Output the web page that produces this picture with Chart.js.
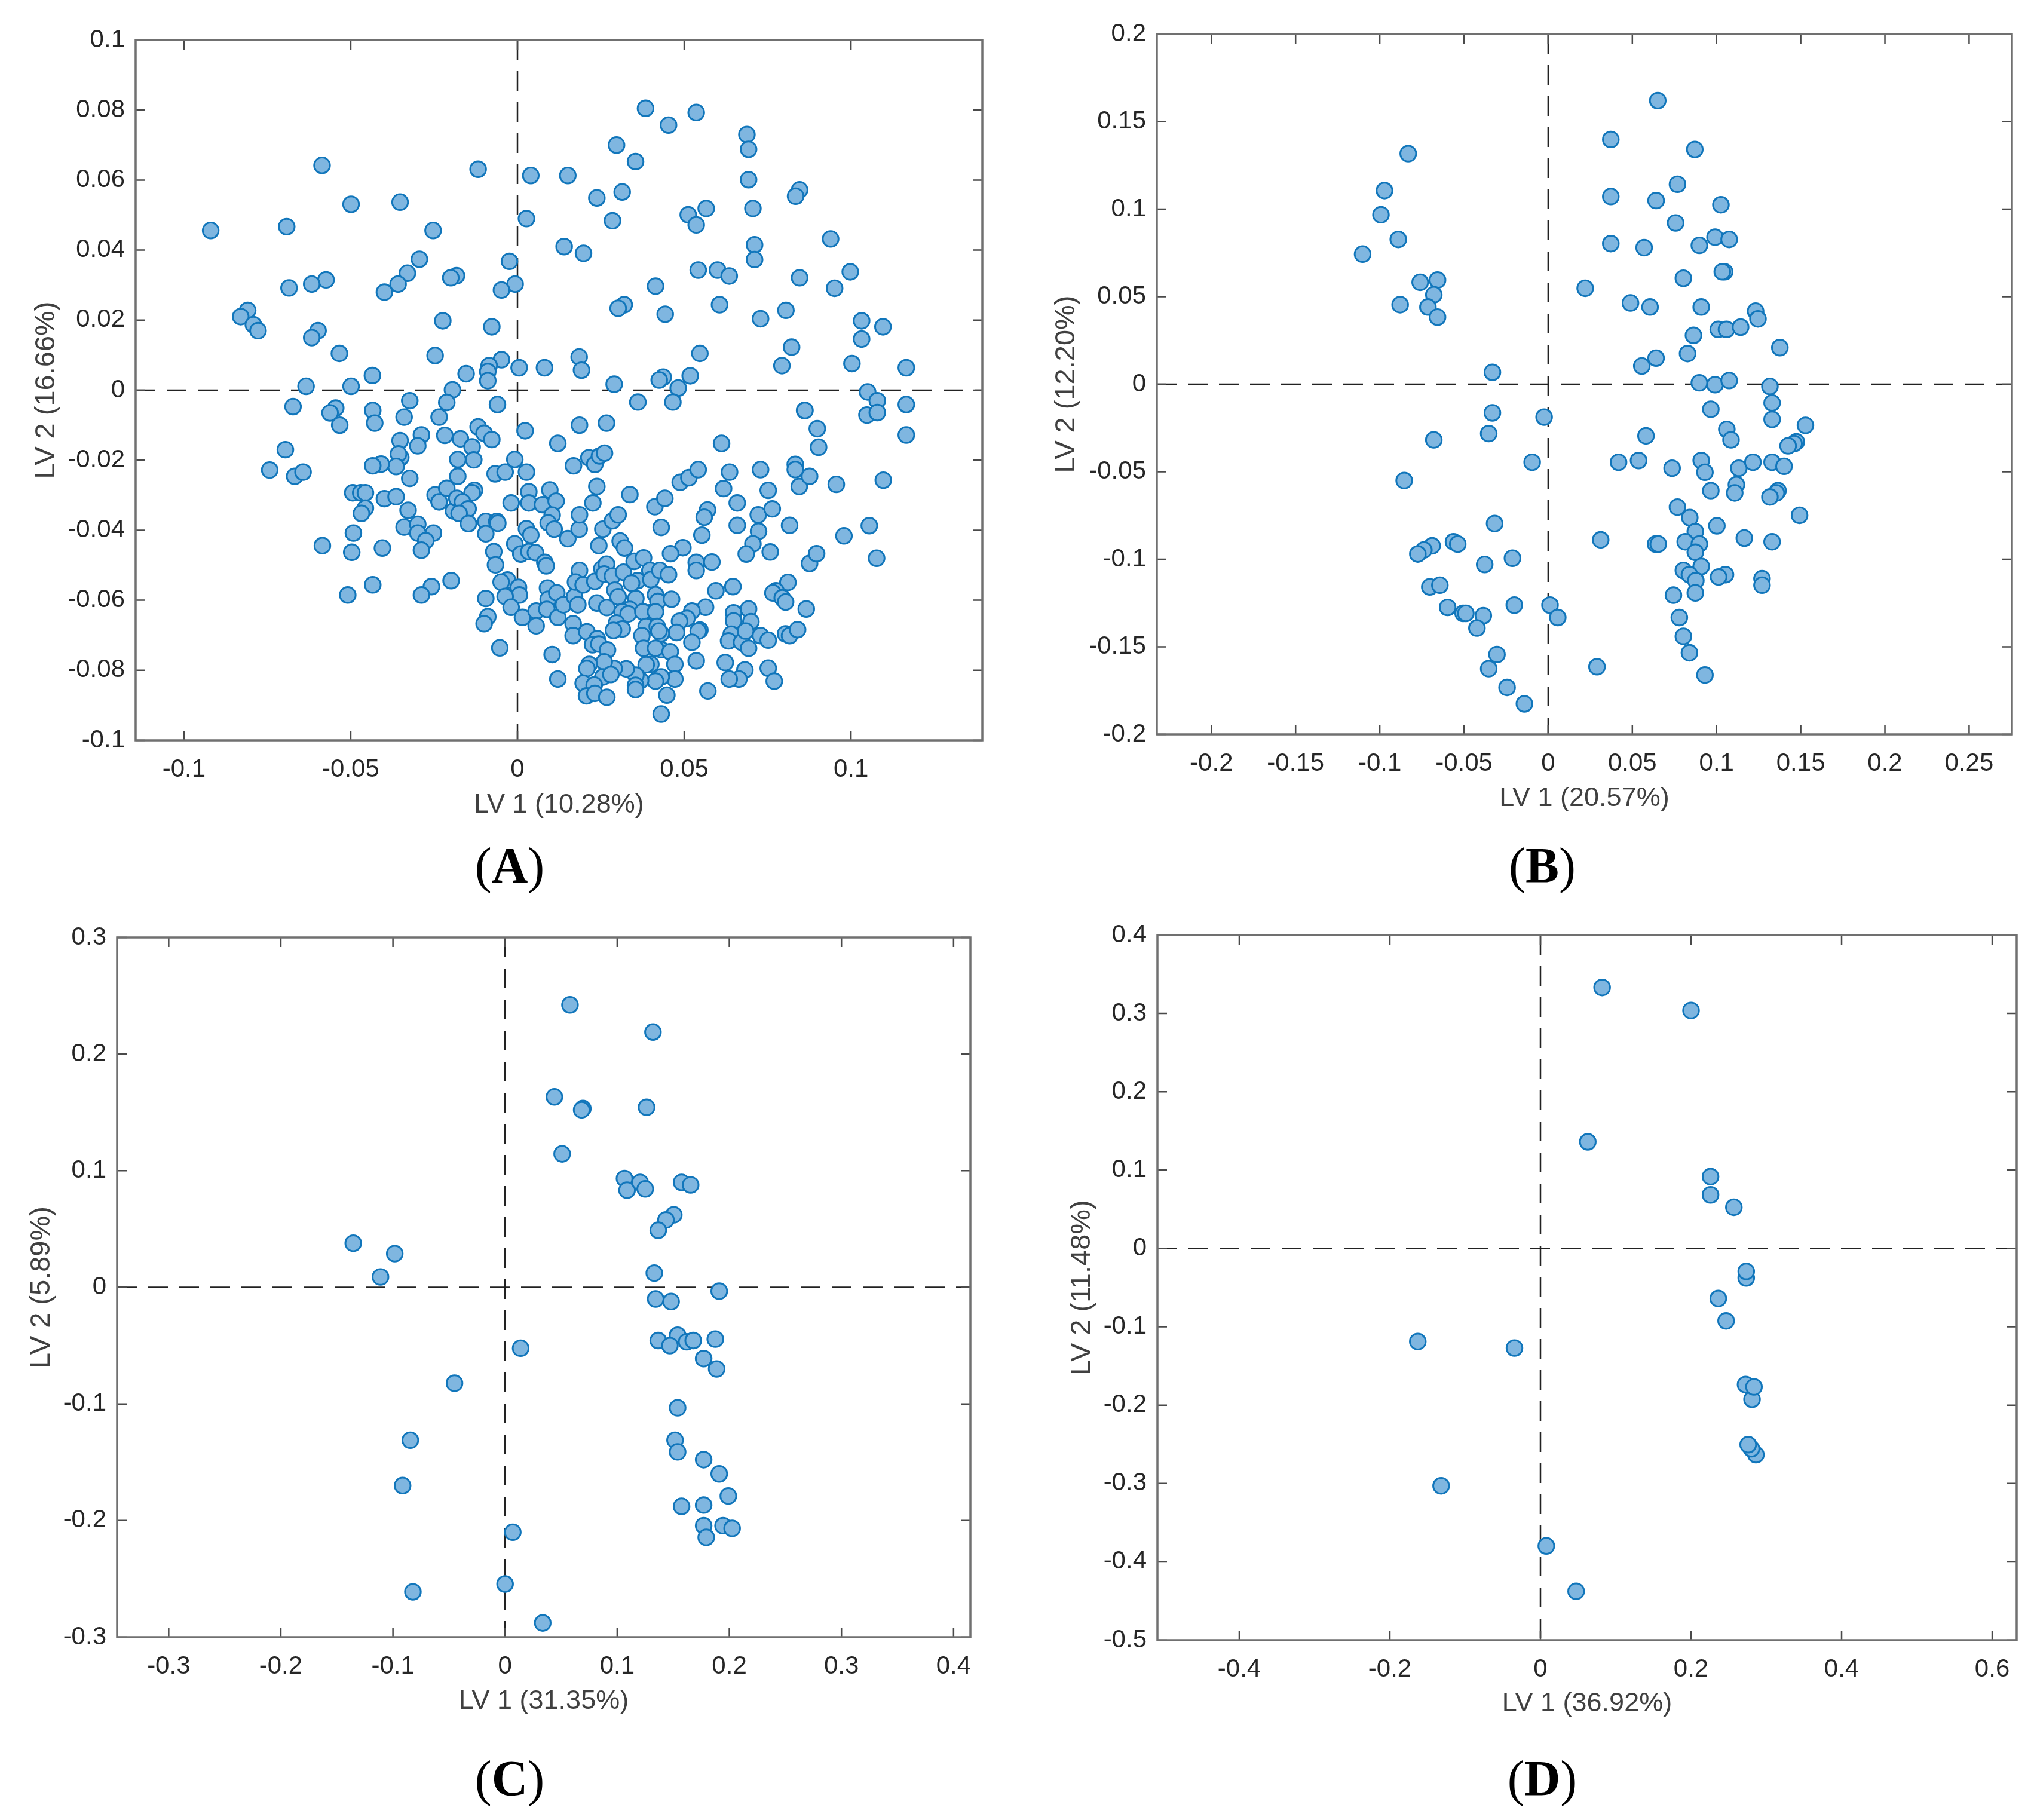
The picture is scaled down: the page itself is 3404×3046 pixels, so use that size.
<!DOCTYPE html>
<html lang="en">
<head>
<meta charset="UTF-8" />
<title>LV score plots</title>
<script src="https://cdn.jsdelivr.net/npm/chart.js"></script>
<style>
  body { margin: 0; background: #fff; width: 3404px; height: 3046px; position: relative; overflow: hidden; }
  canvas { position: absolute; }
  .tag { position: absolute; transform: translate(-50%, -50%); font: 84px "Liberation Serif", serif; color: #000; }
  .tag b { font-weight: bold; }
</style>
</head>
<body>
<script>
// scores, [LV 1, LV 2]
const scoresA = [
[-.092,.0456],[-.0692,.0467],[-.0586,.0642],[-.0499,.0531],[-.0352,.0537],[-.0253,.0456],[-.0118,.0631],[.004,.0613],[.0151,.0613],[.0027,.049],
[.014,.041],[.0198,.0391],[-.0024,.0368],[-.0183,.0327],[-.02,.0321],[-.0294,.0374],[-.033,.0334],[-.0358,.0303],[-.0399,.028],[-.0574,.0315],
[-.0617,.0303],[-.0685,.0292],[-.0007,.0303],[-.0048,.0286],[-.0809,.0228],[-.083,.021],[-.0792,.0187],[-.0778,.017],[-.0598,.017],[-.0617,.015],
[-.0534,.0105],[-.0224,.0198],[-.0077,.0181],[-.0247,.0099],[-.0435,.0042],[-.0154,.0047],[-.0048,.0087],[-.0085,.007],[-.0089,.0053],[-.0089,.0027],
[.0005,.0064],[.0081,.0064],[.0185,.0095],[.0192,.0057],[-.0634,.0011],[-.0499,.0011],[-.0195,.0001],
[-.0673,-.0047],[-.0545,-.0051],[-.0562,-.0065],[-.0533,-.01],[-.0434,-.0058],[-.0428,-.0094],[-.0323,-.003],[-.034,-.0077],[-.0212,-.0035],[-.0235,-.0077],
[-.0288,-.0128],[-.0299,-.0159],[-.0352,-.0144],[-.035,-.0192],[-.0357,-.0182],[-.0364,-.0218],[-.0409,-.0211],[-.0434,-.0216],[-.0323,-.0252],[-.0218,-.0129],
[-.0696,-.017],[-.0743,-.0228],[-.0668,-.0246],[-.0643,-.0234],[-.0494,-.0293],[-.047,-.0293],[-.0456,-.0293],[-.0456,-.0337],[-.0468,-.0352],[-.0399,-.031],
[-.0364,-.0304],[-.0328,-.0343],[-.034,-.0391],[-.0299,-.0383],[-.0299,-.0408],[-.0252,-.0408],[-.0275,-.043],[-.0288,-.0457],[-.0492,-.0408],[-.0585,-.0444],
[-.0497,-.0463],[-.0405,-.0451],[-.0434,-.0556],[-.0509,-.0585],[-.0258,-.0561],[-.0288,-.0585],[-.0199,-.0544],[-.0247,-.0299],[-.0235,-.0319],[-.0212,-.028],[-.0192,-.0345],
[-.006,-.0041],[-.0118,-.0105],[-.01,-.0123],[-.0077,-.0141],[-.0171,-.0139],[-.0136,-.0162],[-.0131,-.0199],[-.0179,-.0198],[-.0179,-.0246],[.0023,-.0116],
[-.0008,-.0198],[-.0067,-.0239],[-.0037,-.0234],[.0027,-.0234],[.0121,-.0152],[.0186,-.01],[.0267,-.0094],[.0168,-.0216],[.0214,-.0193],[.0232,-.0212],
[.0246,-.0188],[.0261,-.018],[.0612,-.0152],[.0238,-.0275],[.0226,-.0322],[.0337,-.0298],[-.0129,-.0286],[-.0136,-.0293],[-.0182,-.0309],[-.0165,-.0319],
[-.0148,-.0339],[-.0175,-.0352],[-.0147,-.0381],[-.0019,-.0322],[.0034,-.029],[.0034,-.0322],[.0075,-.0327],[.0097,-.0285],[.0116,-.0317],[.0104,-.0357],
[.0092,-.0379],[.011,-.0397],[.0151,-.0424],[.0185,-.0397],[.0186,-.0356],[.0256,-.0397],[.0285,-.0373],[.0302,-.0356],[.0244,-.0444],[.0308,-.0431],
[.0321,-.0451],[.0412,-.0333],[.0442,-.0309],[.0431,-.0392],[.0488,-.0263],[.0514,-.025],[.0542,-.0227],[.0618,-.0281],[.0636,-.0234],[.0729,-.0227],
[.0752,-.0286],[.0659,-.0322],[.057,-.0342],[.056,-.0363],[.0553,-.0414],[.0659,-.0386],[.0722,-.0356],[.0764,-.0339],[.0816,-.0386],[.0723,-.0403],
[.0706,-.0439],[.0686,-.0468],[.0758,-.0462],[.0833,-.0212],[.0833,-.0227],[.0845,-.0275],[.0876,-.0246],[.0861,-.0058],[.0876,-.0495],[.0866,-.0625],
[.0496,-.045],[.0459,-.0467],[.0536,-.0492],[.0536,-.0515],[.0583,-.0491],[.0595,-.0573],[.0646,-.0561],[.0811,-.0549],[.0775,-.0573],[.0766,-.0579],
[.0794,-.0593],[.0804,-.0605],[.0564,-.062],[.0523,-.0631],[.0508,-.0652],[.0486,-.066],[.0477,-.0692],[.0547,-.0685],[.0542,-.0688],[.0523,-.072],
[.0536,-.0773],[.0571,-.0859],[.0623,-.0778],[.0682,-.0799],[.0664,-.0825],[.0635,-.0825],[.0752,-.0794],[.077,-.0831],[.0648,-.0636],[.0648,-.0659],
[.0693,-.0625],[.07,-.0661],[.0641,-.0697],[.0633,-.0716],[.0672,-.072],[.0693,-.0737],[.0684,-.0688],[.0729,-.0701],[.0752,-.0714],[.0804,-.0696],[.0816,-.0701],[.084,-.0684],
[-.0095,-.0595],[-.003,-.0542],[-.0049,-.0548],[.0003,-.0563],[.0006,-.0585],[-.0037,-.0589],[-.0019,-.062],[-.0089,-.0647],[-.01,-.0667],[.0015,-.0649],
[.0056,-.0631],[.0056,-.0673],[-.0053,-.0736],[.009,-.0565],[.0092,-.0597],[.0118,-.0579],[.0088,-.0626],[.0121,-.0649],[.0138,-.0613],[.0171,-.059],
[.0181,-.0613],[.0167,-.0667],[.0167,-.0701],[.0208,-.069],[.0104,-.0755],[.0121,-.0825],[.0239,-.071],[.0225,-.0727],[.0244,-.0725],[.027,-.0742],
[.0186,-.0515],[.0174,-.0548],[.0197,-.0556],[.0232,-.0546],[.0253,-.051],[.0267,-.0497],[.026,-.0525],[.0285,-.0531],[.0318,-.052],[.035,-.0489],
[.0378,-.0479],[.0397,-.0515],[.036,-.0544],[.04,-.0541],[.0342,-.0551],[.0427,-.0515],[.0453,-.0527],[.0292,-.0571],[.0302,-.059],[.0355,-.0595],
[.0414,-.0584],[.0421,-.0603],[.0462,-.0597],[.0238,-.0608],[.0268,-.0621],[.0337,-.0626],[.0314,-.0633],[.0332,-.0639],[.0395,-.0636],[.0376,-.0633],
[.0414,-.0633],[.0297,-.0665],[.0314,-.0682],[.0288,-.0686],[.0386,-.0675],[.0419,-.0675],[.0431,-.0695],[.0424,-.0688],[.0373,-.0701],[.0431,-.0741],
[.0378,-.0737],[.0414,-.0737],[.0458,-.0747],[.04,-.0783],[.0386,-.0784],[.0472,-.0783],[.0472,-.0825],[.0431,-.0819],[.0414,-.0831],[.0369,-.0829],
[.0355,-.0814],[.0354,-.0843],[.0354,-.0855],[.0448,-.0871],[.0431,-.0925],[.0326,-.0796],[.029,-.0795],[.026,-.0776],[.0215,-.0783],[.0208,-.0795],
[.0256,-.0819],[.028,-.0812],[.0197,-.0837],[.023,-.0842],[.0207,-.0873],[.0232,-.0866],[.0268,-.0877],[-.0071,-.0461],[-.0066,-.0499],[-.0095,-.0375],
[-.0062,-.0375],[-.0059,-.038],[-.0095,-.041],[.0027,-.0396],[.004,-.0414],[-.0008,-.0439],[.001,-.0468],[.0034,-.0461],[.0054,-.0464],[.0082,-.0492],[.0086,-.0502],
[.0384,.0805],[.0453,.0757],[.0536,.0793],[.0688,.073],[.0693,.0688],[.0297,.07],[.0354,.0653],[.0693,.0601],[.0846,.0572],[.0834,.0554],
[.0238,.0549],[.0314,.0566],[.0706,.0519],[.0566,.0519],[.0512,.0501],[.0536,.0472],[.0285,.0484],[.0711,.0415],[.0711,.0373],[.0939,.0432],
[.0542,.0343],[.06,.0343],[.0635,.0326],[.0846,.0321],[.0998,.0338],[.0951,.0291],[.0414,.0297],[.0606,.0244],[.032,.0244],[.0302,.0234],
[.0443,.0217],[.0729,.0204],[.0805,.0228],[.1032,.0198],[.1096,.0181],[.1032,.0146],[.0822,.0123],[.0547,.0105],[.0793,.007],[.1003,.0076],
[.1166,.0064],[.0437,.0037],[.0425,.0029],[.0518,.0041],[.0482,.0006],[.029,.0017],[.105,-.0005],[.1079,-.003],[.0361,-.0034],[.0466,-.0034],
[.0862,-.0058],[.1166,-.0041],[.1048,-.0071],[.1079,-.0064],[.0899,-.011],[.0903,-.0163],[.1166,-.0128],[.0956,-.0269],[.1097,-.0257],
[.1055,-.0387],[.0979,-.0416],[.1077,-.048],[.0897,-.0467]
];
const scoresB = [
[.0651,.162],[.0372,.1398],[.0871,.1341],[-.0831,.1317],[-.0972,.1106],[.0768,.1142],[.0372,.1072],[.0641,.1049],[.1026,.1025],[-.0993,.0968],
[.0757,.0921],[-.089,.0827],[-.1102,.0743],[.0372,.0803],[.057,.078],[.0898,.0793],[.0991,.084],[.1075,.0827],[.0803,.0605],[.1048,.0642],
[.1034,.0642],[.022,.0548],[.0489,.0464],[.0605,.0441],[.0909,.0441],[-.076,.0582],[-.0657,.0595],[-.0679,.0511],[-.0879,.0454],[-.0714,.0441],
[-.0657,.0383],[.1232,.0417],[.1246,.0373],[.101,.0313],[.1059,.0313],[.1143,.0326],[.0863,.0279],[.1376,.0209],[.0828,.0175],[.0641,.0149],
[.0556,.0104],[-.0331,.0068],[.0898,.0008],[.0991,-.0003],[.1075,.0021],[.1317,-.0013],[.133,-.0107],[.0966,-.0143],[.133,-.0201],[-.0331,-.0164],
[-.0024,-.0188],[-.0353,-.0282],[.1061,-.0258],[.1086,-.0318],[.1528,-.0235],[.0581,-.0295],[-.0679,-.0318],[.1474,-.0329],[.146,-.0339],[.1425,-.0352],
[-.0095,-.0446],[.0418,-.0446],[.0537,-.0436],[.0736,-.048],[.0909,-.0436],[.0931,-.0503],[.1132,-.048],[.1216,-.0446],[.133,-.0446],[.1401,-.0469],
[-.0855,-.055],[.1118,-.0574],[.1108,-.0621],[.0966,-.0608],[.1365,-.0608],[.1355,-.0621],[.1317,-.0644],[.0768,-.0702],[.0841,-.0762],[.1493,-.0749],
[-.0318,-.0796],[.1002,-.0809],[.0874,-.0842],[.0312,-.0889],[.0638,-.0913],[.0654,-.0913],[.0814,-.09],[.0898,-.0913],[.1165,-.0879],[.133,-.09],
[-.0562,-.09],[-.0537,-.0913],[-.0689,-.0923],[-.0738,-.0947],[-.0774,-.097],[-.0212,-.0994],[-.0377,-.103],[.0874,-.096],[.0909,-.1041],[.0803,-.1064],
[.0839,-.1088],[.0877,-.1122],[.1053,-.1088],[.1012,-.1101],[.127,-.1111],[.127,-.1148],[.0874,-.1192],[.0744,-.1205],[-.0703,-.1158],[-.0643,-.1148],
[-.0597,-.1275],[-.0505,-.1309],[-.0489,-.1309],[-.0385,-.1322],[-.0201,-.1262],[.0011,-.1262],[.0057,-.1333],[-.0423,-.1393],[.0779,-.1333],[.0803,-.144],
[.0839,-.1534],[-.0304,-.1544],[-.0353,-.1625],[.029,-.1614],[.0931,-.1661],[-.0244,-.1732],[-.0141,-.1826]
];
const scoresC = [
[.0579,.2422],[.1319,.2189],[.044,.1633],[.0694,.1533],[.0683,.1522],[.1262,.1544],[.0509,.1144],[.1065,.0933],[.1088,.0833],[.1204,.09],
[.125,.0844],[.1574,.09],[.1655,.0878],[.1505,.0622],[.1435,.0578],[.1366,.0489],[.1331,.0122],[-.1354,.0378],[-.0984,.0289],[-.1111,.0089],
[.1343,-.01],[.1481,-.0122],[.191,-.0033],[.0139,-.0522],[.1366,-.0456],[.1539,-.0411],[.147,-.05],[.162,-.0467],[.1678,-.0456],[.1875,-.0444],
[.1771,-.0611],[.1887,-.07],[-.0451,-.0822],[.1539,-.1033],[-.0845,-.1311],[.1516,-.1311],[.1539,-.1411],[.1771,-.1478],[.191,-.16],[-.0914,-.17],
[.1991,-.1789],[.1574,-.1878],[.1771,-.1867],[.1771,-.2044],[.1794,-.2144],[.1944,-.2044],[.2025,-.2067],[.0069,-.21],[-.0822,-.2611],[0,-.2544],[.0336,-.2878]
];
const scoresD = [
[.0819,.3331],[.2,.3038],[.0629,.1361],[.2259,.0917],[.2259,.0684],[.2569,.0526],[.2733,-.0376],[.2733,-.0293],[.2362,-.0639],[.2466,-.0925],
[-.1629,-.1188],[-.0345,-.1271],[.2724,-.1737],[.281,-.1925],[.2836,-.1767],[.2862,-.2632],[.2802,-.2556],[.2759,-.2504],[-.1319,-.303],[.0078,-.3797],[.0474,-.4376]
];

const xTicksA = [-0.1, -0.05, 0, 0.05, 0.1];
const yTicksA = [-0.1, -0.08, -0.06, -0.04, -0.02, 0, 0.02, 0.04, 0.06, 0.08, 0.1];
const xTicksB = [-0.2, -0.15, -0.1, -0.05, 0, 0.05, 0.1, 0.15, 0.2, 0.25];
const yTicksB = [-0.2, -0.15, -0.1, -0.05, 0, 0.05, 0.1, 0.15, 0.2];
const xTicksC = [-0.3, -0.2, -0.1, 0, 0.1, 0.2, 0.3, 0.4];
const yTicksC = [-0.3, -0.2, -0.1, 0, 0.1, 0.2, 0.3];
const xTicksD = [-0.4, -0.2, 0, 0.2, 0.4, 0.6];
const yTicksD = [-0.5, -0.4, -0.3, -0.2, -0.1, 0, 0.1, 0.2, 0.3, 0.4];

const xLimitsA = [-0.1145, 0.1394], yLimitsA = [-0.1, 0.1];
const xLimitsB = [-0.2324, 0.2754], yLimitsB = [-0.2, 0.2];
const xLimitsC = [-0.346, 0.415], yLimitsC = [-0.3, 0.3];
const xLimitsD = [-0.5087, 0.6325], yLimitsD = [-0.5, 0.4];

// box = plot area in page pixels, page = canvas rectangle
const panels = [
  { tag: 'A', scores: scoresA, xTicks: xTicksA, yTicks: yTicksA, xLim: xLimitsA, yLim: yLimitsA,
    xTitle: 'LV 1 (10.28%)', yTitle: 'LV 2 (16.66%)', page: [0, 0, 1700, 1500], box: [227, 67, 1644, 1239], xTitleY: 1348, yTitleX: 78, tagAt: [853, 1448] },
  { tag: 'B', scores: scoresB, xTicks: xTicksB, yTicks: yTicksB, xLim: xLimitsB, yLim: yLimitsB,
    xTitle: 'LV 1 (20.57%)', yTitle: 'LV 2 (12.20%)', page: [1700, 0, 1704, 1500], box: [1936, 57, 3367, 1229], xTitleY: 1337, yTitleX: 1785, tagAt: [2581, 1448] },
  { tag: 'C', scores: scoresC, xTicks: xTicksC, yTicks: yTicksC, xLim: xLimitsC, yLim: yLimitsC,
    xTitle: 'LV 1 (31.35%)', yTitle: 'LV 2 (5.89%)', page: [0, 1500, 1700, 1546], box: [196, 1569, 1624, 2740], xTitleY: 2848, yTitleX: 70, tagAt: [853, 2976] },
  { tag: 'D', scores: scoresD, xTicks: xTicksD, yTicks: yTicksD, xLim: xLimitsD, yLim: yLimitsD,
    xTitle: 'LV 1 (36.92%)', yTitle: 'LV 2 (11.48%)', page: [1700, 1500, 1704, 1546], box: [1937, 1565, 3375, 2745], xTitleY: 2852, yTitleX: 1811, tagAt: [2581, 2976] }
];

const TICK_FONT = { family: '"Liberation Sans", Arial, sans-serif', size: 42 };
const X_TITLE_FONT = { family: '"Liberation Sans", Arial, sans-serif', size: 45, lineHeight: 1.2 };
const Y_TITLE_FONT = { family: '"Liberation Sans", Arial, sans-serif', size: 47, lineHeight: 1.2 };

// matlab style box with inward ticks on all four sides
const boxPlugin = {
  id: 'matlabBox',
  afterDraw(chart) {
    const { ctx, chartArea: a, scales } = chart;
    const len = 16;
    ctx.save();
    ctx.strokeStyle = '#4a4a4a';
    ctx.lineWidth = 2.5;
    ctx.beginPath();
    scales.x.ticks.forEach(t => {
      const px = scales.x.getPixelForValue(t.value);
      ctx.moveTo(px, a.bottom); ctx.lineTo(px, a.bottom - len);
      ctx.moveTo(px, a.top); ctx.lineTo(px, a.top + len);
    });
    scales.y.ticks.forEach(t => {
      const py = scales.y.getPixelForValue(t.value);
      ctx.moveTo(a.left, py); ctx.lineTo(a.left + len, py);
      ctx.moveTo(a.right, py); ctx.lineTo(a.right - len, py);
    });
    ctx.stroke();
    ctx.strokeStyle = '#707070';
    ctx.lineWidth = 3.5;
    ctx.strokeRect(a.left, a.top, a.right - a.left, a.bottom - a.top);
    ctx.restore();
  }
};

function fixedTicks(list) {
  return s => { s.ticks = list.map(v => ({ value: v })); };
}

panels.forEach(p => {
  const [cl, ct, cw, ch] = p.page;
  const [l, t, r, b] = p.box;
  const canvas = document.createElement('canvas');
  canvas.width = cw;
  canvas.height = ch;
  canvas.style.left = cl + 'px';
  canvas.style.top = ct + 'px';
  document.body.appendChild(canvas);

  const xLh = X_TITLE_FONT.size * X_TITLE_FONT.lineHeight;
  const yLh = Y_TITLE_FONT.size * Y_TITLE_FONT.lineHeight;
  const xAxisH = p.xTitleY - b + xLh / 2;
  const yAxisW = l - cl;

  new Chart(canvas, {
    type: 'scatter',
    data: {
      datasets: [
        {
          data: p.scores.map(s => ({ x: s[0], y: s[1] })),
          backgroundColor: '#7fb6e0',
          borderColor: '#1176bb',
          borderWidth: 3,
          pointRadius: 13.2,
          order: 0
        },
        {
          type: 'line',
          data: [{ x: p.xLim[0], y: 0 }, { x: p.xLim[1], y: 0 }],
          borderColor: '#222',
          borderWidth: 2.5,
          borderDash: [33, 19],
          pointRadius: 0,
          order: 1
        },
        {
          type: 'line',
          data: [{ x: 0, y: p.yLim[1] }, { x: 0, y: p.yLim[0] }],
          borderColor: '#222',
          borderWidth: 2.5,
          borderDash: [33, 19],
          pointRadius: 0,
          order: 2
        }
      ]
    },
    options: {
      responsive: false,
      animation: false,
      devicePixelRatio: 1,
      layout: { padding: { left: 0, top: t - ct, right: cl + cw - r, bottom: ct + ch - b - xAxisH } },
      plugins: { legend: { display: false }, tooltip: { enabled: false } },
      scales: {
        x: {
          type: 'linear',
          min: p.xLim[0],
          max: p.xLim[1],
          afterBuildTicks: fixedTicks(p.xTicks),
          afterFit: s => { s.height = xAxisH; },
          grid: { display: false, drawTicks: false },
          border: { display: false },
          ticks: { color: '#262626', font: TICK_FONT, padding: 24, maxRotation: 0, autoSkip: false, callback: v => String(v) },
          title: { display: true, text: p.xTitle, color: '#404040', font: X_TITLE_FONT, padding: 0 }
        },
        y: {
          type: 'linear',
          min: p.yLim[0],
          max: p.yLim[1],
          afterBuildTicks: fixedTicks(p.yTicks),
          afterFit: s => { s.width = yAxisW; },
          grid: { display: false, drawTicks: false },
          border: { display: false },
          ticks: { color: '#262626', font: TICK_FONT, padding: 18, autoSkip: false, callback: v => String(v) },
          title: { display: true, text: p.yTitle, color: '#404040', font: Y_TITLE_FONT, padding: { top: p.yTitleX - cl - yLh / 2, bottom: 0 } }
        }
      }
    },
    plugins: [boxPlugin]
  });

  const tag = document.createElement('div');
  tag.className = 'tag';
  tag.style.left = p.tagAt[0] + 'px';
  tag.style.top = p.tagAt[1] + 'px';
  tag.innerHTML = '(<b>' + p.tag + '</b>)';
  document.body.appendChild(tag);
});
</script>
</body>
</html>
